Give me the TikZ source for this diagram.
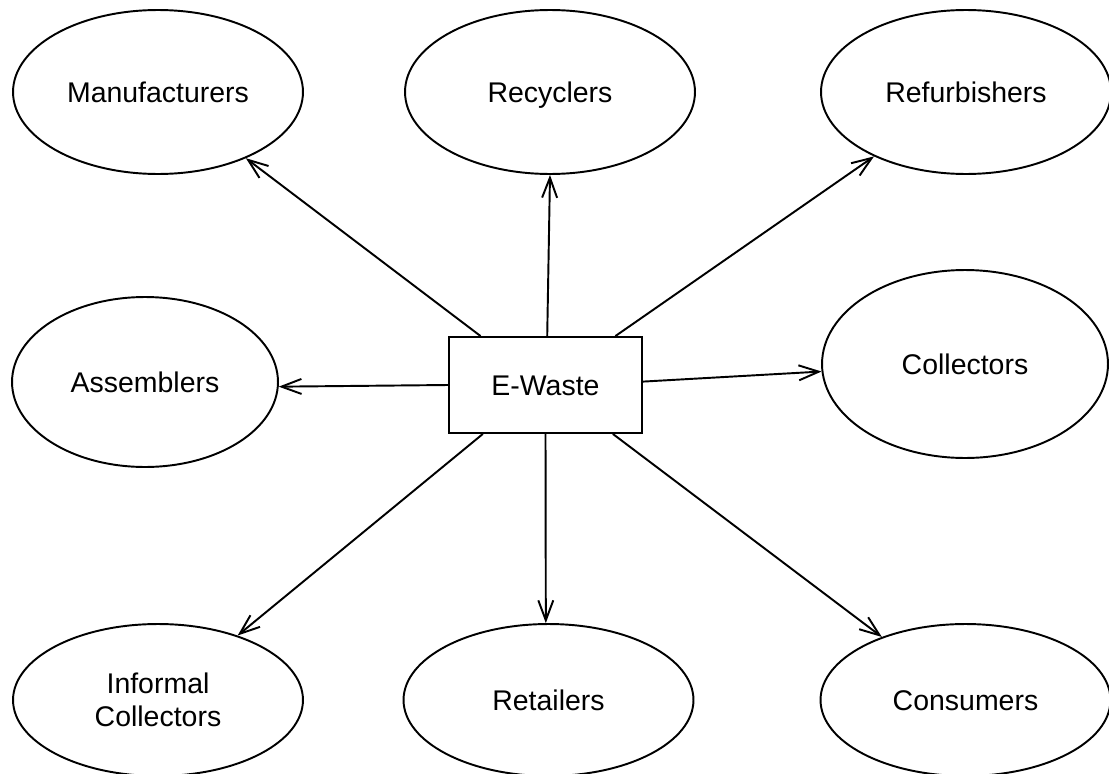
\documentclass[tikz,border=0pt]{standalone}
\usepackage{fontspec}
\setmainfont{Liberation Sans}
\usetikzlibrary{shapes.geometric,arrows.meta}
\tikzset{
	actor/.style={ellipse, draw, line width=1.1pt, inner sep=0pt, align=center},
	oneline/.style={text height=11.8pt, text depth=0pt},
	toprow/.style={actor, oneline, minimum width=5.8cm, minimum height=3.28cm},
	botrow/.style={actor, minimum width=5.8cm, minimum height=3.04cm},
	wastebox/.style={rectangle, draw, line width=1.1pt, minimum width=3.86cm, minimum height=1.92cm},
	flow/.style={-{Straight Barb[length=0.4cm,width=0.3cm]}, line width=1.1pt}
}
\begin{document}
\begin{tikzpicture}[x=0.02cm, y=-0.02cm, font=\fontsize{16.2}{18.8}\selectfont]
	\useasboundingbox (0,0) rectangle (1109,774);
	%centre
	\node[wastebox, oneline] (ew) at (545.5,385) {E-Waste};
	%top row
	\node[toprow] (man) at (158,92) {Manufacturers};
	\node[toprow] (rec) at (550,92) {Recyclers};
	\node[toprow] (ref) at (966,92) {Refurbishers};
	%middle row
	\node[actor, oneline, minimum width=5.32cm, minimum height=3.4cm] (ass) at (145,382) {Assemblers};
	\node[actor, oneline, minimum width=5.72cm, minimum height=3.76cm] (col) at (965,364) {Collectors};
	%bottom row
	\node[botrow] (inf) at (158,700) {Informal\\Collectors};
	\node[botrow, oneline] (ret) at (548.5,700) {Retailers};
	\node[botrow, oneline] (con) at (965.5,700) {Consumers};
	%arrows
	\foreach \a/\b in {
		143/man.-37,
		88/rec.-90,
		35/ref.-145,
		180/ass.-2,
		2/col.183,
		218/inf.39,
		270/ret.92,
		324/con.143
	}
	\draw[flow] (ew.\a) -- (\b);
\end{tikzpicture}
\end{document}
